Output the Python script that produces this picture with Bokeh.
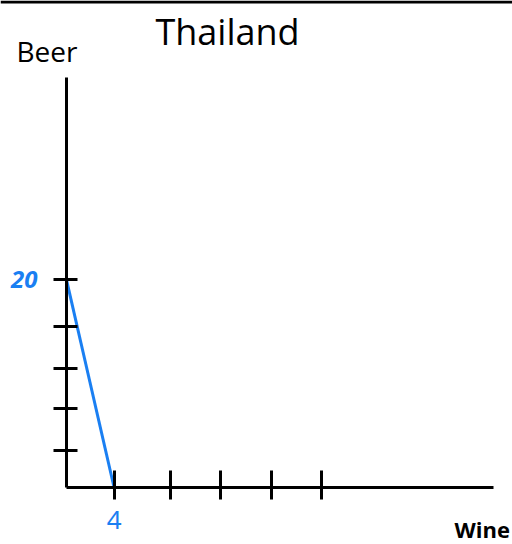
from bokeh.plotting import figure
from bokeh.models import (Range1d, FixedTicker, CustomJSTickFormatter, Label,
                          BoxAnnotation)
from bokeh.embed import file_html
from bokeh.resources import INLINE

# ---- data ----
wine = [0, 4]          # x: wine produced
beer = [20, 0]         # y: beer produced
x_ticks = [4, 8.7, 12.9, 17.2, 21.4]
x_shown = [4]
y_ticks = [3.6, 7.6, 11.5, 15.5, 20]
y_shown = [20]
title_text = "Thailand"
x_name = "Wine"
y_name = "Beer"

BLUE = "#1a7ff2"

W, H = 512, 544
PX_X = 11.9     # pixels per wine unit
PX_Y = 10.385   # pixels per beer unit
ox, oy = 66, 487          # pixel position of the origin
ax_right, ax_top = 493, 77  # pixel ends of the axis lines

p = figure(width=W, height=H, output_backend="svg", toolbar_location=None,
           x_range=Range1d(-ox / PX_X, (W - ox) / PX_X),
           y_range=Range1d(-(H - oy) / PX_Y, oy / PX_Y),
           min_border=0, outline_line_color=None,
           background_fill_color="white", border_fill_color="white")
p.styles = {"position": "absolute", "top": "0px", "left": "0px"}
p.grid.visible = False

def fmt(shown):
    return CustomJSTickFormatter(args=dict(shown=shown),
                                 code="return shown.includes(tick) ? String(tick) : '';")

xa = p.xaxis[0]
xa.fixed_location = 0
xa.bounds = (0, (ax_right - ox) / PX_X)
xa.ticker = FixedTicker(ticks=x_ticks)
xa.formatter = fmt(x_shown)
xa.axis_line_width = 3
xa.axis_line_color = "black"
xa.major_tick_line_width = 3
xa.major_tick_in = 17
xa.major_tick_out = 12
xa.minor_tick_line_color = None
xa.major_label_standoff = 11
xa.major_label_text_color = BLUE
xa.major_label_text_font = "Noto Sans"
xa.major_label_text_font_size = "26px"

ya = p.yaxis[0]
ya.fixed_location = 0
ya.bounds = (0, (oy - ax_top) / PX_Y)
ya.ticker = FixedTicker(ticks=y_ticks)
ya.formatter = fmt(y_shown)
ya.axis_line_width = 3
ya.axis_line_color = "black"
ya.major_tick_line_width = 3
ya.major_tick_in = 11
ya.major_tick_out = 13
ya.minor_tick_line_color = None
ya.major_label_standoff = 16
ya.major_label_text_color = BLUE
ya.major_label_text_font = "Noto Sans"
ya.major_label_text_font_style = "bold italic"
ya.major_label_text_font_size = "24px"
ya.major_label_orientation = "horizontal"

p.line(wine, beer, line_color=BLUE, line_width=3)

def dx(px):
    return (px - ox) / PX_X

def dy(py):
    return (oy - py) / PX_Y

p.add_layout(Label(x=dx(227), y=dy(31), text=title_text, text_align="center",
                   text_baseline="middle", text_font="Open Sans",
                   text_font_size="36px", text_color="black"))
p.add_layout(Label(x=dx(16), y=dy(50), text=y_name, text_align="left",
                   text_baseline="middle", text_font="Open Sans",
                   text_font_size="28px", text_color="black"))
p.add_layout(Label(x=dx(454), y=dy(528), text=x_name, text_align="left",
                   text_baseline="middle", text_font="Open Sans",
                   text_font_style="bold", text_font_size="22px",
                   text_color="black"))
p.add_layout(BoxAnnotation(left=dx(0), right=dx(W), top=dy(0), bottom=dy(3),
                           fill_color="black", fill_alpha=1, line_color=None))

open("out.html", "w").write(file_html(p, INLINE))
